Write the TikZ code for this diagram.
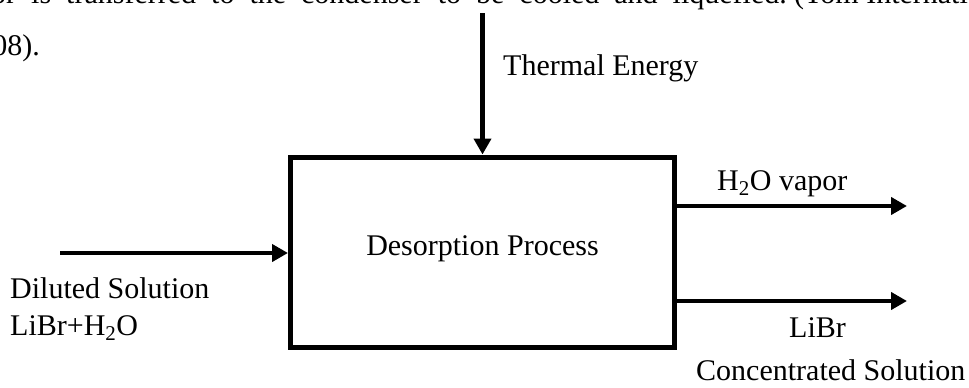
\documentclass[tikz,border=0pt]{standalone}
\usepackage{fontspec}
\setmainfont{Liberation Serif}
\usetikzlibrary{positioning,arrows.meta}

\begin{document}
\begin{tikzpicture}[x=1pt, y=-1pt, font=\fontsize{30}{37}\selectfont,
    flow/.style={line width=4.5pt, -{Triangle[length=16pt,width=17pt]}},
    txt/.style={inner sep=0pt, anchor=base west}]
    \clip (0,0) rectangle (969,388);

    % Caption text cut by the crop (justified line, wide spaces)
    \node[inner sep=0pt, anchor=base east] (capA) at (787,3) {\spaceskip=15pt\relax vapor is transferred to the condenser to be cooled and liquefied.};
    \node[txt] (capB) at (794,3) {(Tom International};
    \node[inner sep=0pt, anchor=base east] (capC) at (40,55) {2008).};

    % Generator block
    \node[draw, line width=5pt, minimum width=384pt, minimum height=190.5pt, inner sep=0pt,
          text height=20pt, text depth=14.5pt] (desorb) at (482.5,252.25) {Desorption Process};

    % Heat input
    \coordinate (heatin) at (482.5,13);
    \draw[flow] (heatin) -- (desorb.north);
    \node[txt] (heat) at (503,75) {Thermal Energy};

    % Weak solution in
    \coordinate (dilin) at (60,253);
    \draw[flow] (dilin) -- (dilin -| desorb.west);
    \node[txt, align=left] (dil) at (10,335) {Diluted Solution\\LiBr+H\textsubscript{2}O};

    % Vapour and strong solution out
    \coordinate (vapout) at (907,206);
    \draw[flow] (vapout -| desorb.east) -- (vapout);
    \node[txt] (vap) at (717,190) {H\textsubscript{2}O vapor};
    \coordinate (concout) at (907,301);
    \draw[flow] (concout -| desorb.east) -- (concout);
    \node[txt] (conc) at (789,337) {LiBr};
    \node[txt] (conc2) at (696,380) {Concentrated Solution};
\end{tikzpicture}
\end{document}
